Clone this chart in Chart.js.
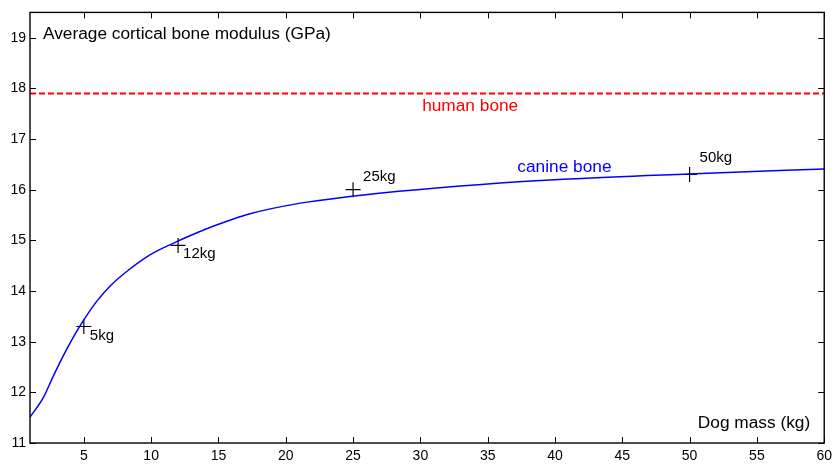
<!DOCTYPE html>
<html>
<head>
<meta charset="utf-8">
<script src="https://cdn.jsdelivr.net/npm/chart.js@4/dist/chart.umd.min.js"></script>
<style>
  html, body { margin: 0; padding: 0; background: #ffffff; }
  #wrap { width: 837px; height: 464px; }
</style>
</head>
<body>
<div id="wrap"><canvas id="c" width="837" height="464"></canvas></div>
<script>
// ---- data ----
const canineMass = [1, 2, 2.73, 3.47, 4.2, 4.95, 5.94, 6.92, 8.16, 9.88, 11.86, 13.58, 14.32, 17.28, 20.98, 24.93, 28.4, 34.3, 41.0, 49.9, 60];
const canineModulus = [11.51, 11.90, 12.32, 12.72, 13.08, 13.41, 13.79, 14.09, 14.38, 14.71, 14.97, 15.17, 15.25, 15.52, 15.73, 15.87, 15.97, 16.10, 16.21, 16.31, 16.41];
const humanMass = [1, 60];
const humanModulus = [17.9, 17.9];
const sampleMass = [5, 12, 25, 50];
const sampleModulus = [13.3, 14.9, 16.0, 16.3];
const sampleLabels = ['5kg', '12kg', '25kg', '50kg'];
const xTickValues = [5, 10, 15, 20, 25, 30, 35, 40, 45, 50, 55, 60];
const yTickValues = [11, 12, 13, 14, 15, 16, 17, 18, 19];
const curveLabels = ['human bone', 'canine bone'];
const curveLabelMass = [33.7, 40.7];
const curveLabelModulus = [17.9, 16.35];
const xAxisTitle = 'Dog mass (kg)';
const yAxisTitle = 'Average cortical bone modulus (GPa)';

const FONT = '"Liberation Sans", Arial, Helvetica, sans-serif';

const toXY = (xs, ys) => xs.map((x, i) => ({ x: x, y: ys[i] }));

const decorPlugin = {
  id: 'decor',
  afterDraw(chart) {
    const ctx = chart.ctx;
    const a = chart.chartArea;
    const xs = chart.scales.x, ys = chart.scales.y;
    ctx.save();
    // box
    ctx.strokeStyle = '#000';
    ctx.lineWidth = 1.4;
    ctx.strokeRect(a.left, a.top, a.right - a.left, a.bottom - a.top);
    // inward ticks
    const tl = 6;
    ctx.lineWidth = 1;
    ctx.beginPath();
    xTickValues.forEach(v => {
      const px = Math.round(xs.getPixelForValue(v)) + 0.5;
      ctx.moveTo(px, a.bottom); ctx.lineTo(px, a.bottom - tl);
      ctx.moveTo(px, a.top); ctx.lineTo(px, a.top + tl);
    });
    yTickValues.forEach(v => {
      const py = Math.round(ys.getPixelForValue(v)) + 0.5;
      ctx.moveTo(a.left, py); ctx.lineTo(a.left + tl, py);
      ctx.moveTo(a.right, py); ctx.lineTo(a.right - tl, py);
    });
    ctx.stroke();

    ctx.font = '17.3px ' + FONT;
    ctx.textBaseline = 'alphabetic';
    // axis titles inside the box
    ctx.fillStyle = '#000';
    ctx.textAlign = 'left';
    ctx.fillText(yAxisTitle, a.left + 13, ys.getPixelForValue(19) + 1);
    ctx.textAlign = 'right';
    ctx.fillText(xAxisTitle, a.right - 14, a.bottom - 15);

    // sample labels
    const offs = [[6, 14], [5, 13], [10, -9], [10, -13]];
    ctx.font = '15px ' + FONT;
    ctx.textAlign = 'left';
    sampleLabels.forEach((t, i) => {
      const px = xs.getPixelForValue(sampleMass[i]);
      const py = ys.getPixelForValue(sampleModulus[i]);
      ctx.fillText(t, px + offs[i][0], py + offs[i][1]);
    });

    // curve labels
    ctx.font = '17.3px ' + FONT;
    ctx.textAlign = 'center';
    ctx.fillStyle = '#ff0000';
    ctx.fillText(curveLabels[0], xs.getPixelForValue(curveLabelMass[0]), ys.getPixelForValue(curveLabelModulus[0]) + 18);
    ctx.fillStyle = '#0000ff';
    ctx.fillText(curveLabels[1], xs.getPixelForValue(curveLabelMass[1]), ys.getPixelForValue(curveLabelModulus[1]));
    ctx.restore();
  }
};

new Chart(document.getElementById('c'), {
  type: 'scatter',
  data: {
    datasets: [
      {
        label: 'human bone',
        data: toXY(humanMass, humanModulus),
        showLine: true,
        borderColor: '#ff0000',
        borderWidth: 2,
        borderDash: [6, 3],
        pointRadius: 0
      },
      {
        label: 'canine bone',
        data: toXY(canineMass, canineModulus),
        showLine: true,
        borderColor: '#0000ff',
        borderWidth: 1.5,
        pointRadius: 0,
        cubicInterpolationMode: 'monotone'
      },
      {
        label: 'samples',
        data: toXY(sampleMass, sampleModulus),
        showLine: false,
        pointStyle: 'cross',
        pointRadius: 7.5,
        borderColor: '#000',
        borderWidth: 1.2,
        backgroundColor: '#000'
      }
    ]
  },
  options: {
    responsive: false,
    animation: false,
    events: [],
    layout: { padding: { top: 11, right: 10, left: 0, bottom: 0 } },
    plugins: { legend: { display: false }, tooltip: { enabled: false } },
    scales: {
      x: {
        type: 'linear',
        min: 1, max: 60,
        grid: { display: false, drawTicks: false },
        border: { display: false },
        afterBuildTicks: s => { s.ticks = xTickValues.map(v => ({ value: v })); },
        afterFit: s => { s.height = 21; },
        ticks: { color: '#000', padding: 5, maxRotation: 0, autoSkip: false, font: { family: FONT, size: 14 } }
      },
      y: {
        type: 'linear',
        min: 11, max: 19.5,
        grid: { display: false, drawTicks: false },
        border: { display: false },
        afterBuildTicks: s => { s.ticks = yTickValues.map(v => ({ value: v })); },
        afterFit: s => { s.width = 30; },
        ticks: { color: '#000', padding: 4, autoSkip: false, font: { family: FONT, size: 14 } }
      }
    }
  },
  plugins: [decorPlugin]
});
</script>
</body>
</html>
